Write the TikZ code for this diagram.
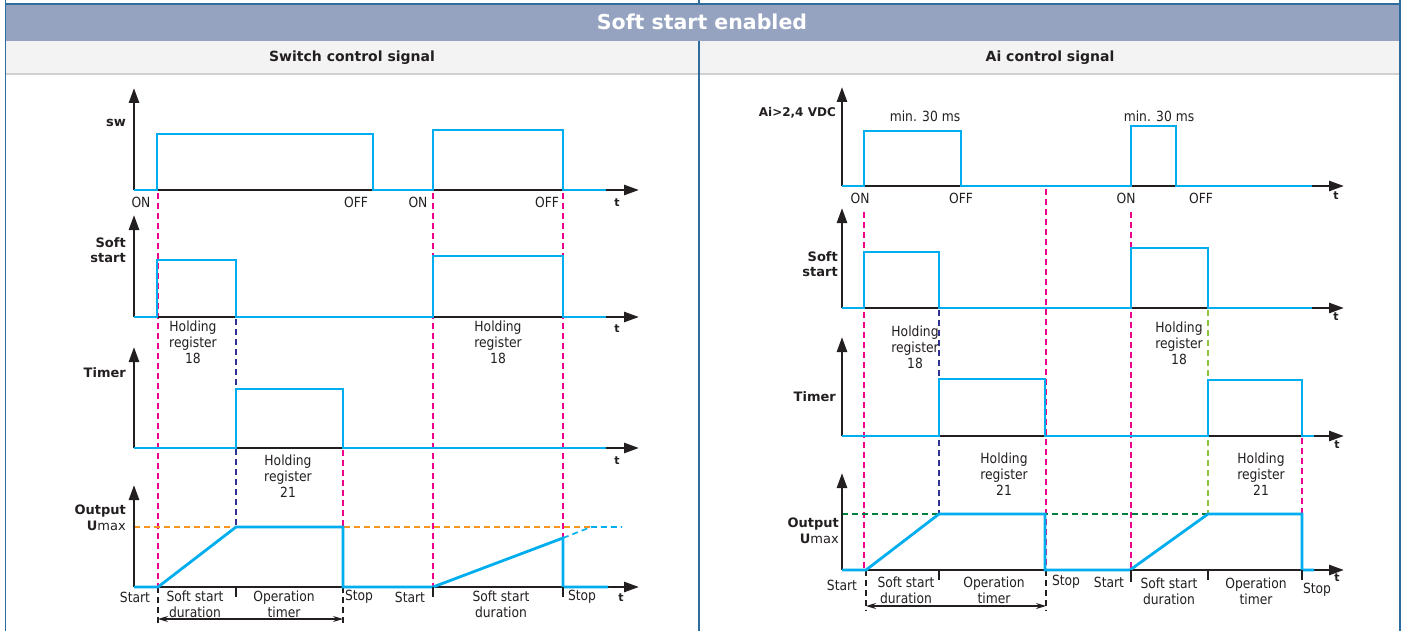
\documentclass[tikz,border=0pt]{standalone}
\usepackage{fontspec}
\setmainfont{DejaVu Sans}
\newfontfamily\narrowfont[FakeStretch=0.88]{DejaVu Sans}
\usepackage{xcolor}
\usepackage{tikz}
\usetikzlibrary{arrows.meta,positioning}

\definecolor{frameblue}{RGB}{46,108,158}
\definecolor{headblue}{RGB}{149,163,193}
\definecolor{subgray}{RGB}{243,243,243}
\definecolor{rulegray}{RGB}{208,208,208}
\definecolor{axisgray}{RGB}{35,31,32}
\definecolor{sigblue}{RGB}{0,174,239}
\definecolor{guidepink}{RGB}{236,0,140}
\definecolor{guidenavy}{RGB}{46,49,146}
\definecolor{guideorange}{RGB}{247,148,29}
\definecolor{guidegreen}{RGB}{0,128,60}
\definecolor{guidelime}{RGB}{141,198,63}

\tikzset{
  axisline/.style={line width=2.6pt, draw=axisgray, -{Triangle[length=15pt,width=10pt]}},
  signal/.style={line width=2.8pt, draw=sigblue},
  guide/.style={line width=1.3pt, dash pattern=on 6pt off 4pt},
  tickline/.style={line width=1.2pt, draw=axisgray},
  span/.style={line width=1.2pt, draw=axisgray, {Stealth[length=10pt,width=6pt]}-{Stealth[length=10pt,width=6pt]}},
  axlabel/.style={font=\fontsize{13}{15.5}\selectfont\bfseries, text=axisgray, align=right, anchor=east, inner sep=0pt},
  tlabel/.style={font=\fontsize{11}{12}\selectfont\bfseries, text=axisgray, inner sep=0pt},
  lbl/.style={font=\narrowfont\fontsize{14}{16}\selectfont, text=axisgray, align=center, inner sep=0pt},
}

\begin{document}
\begin{tikzpicture}[x=1pt, y=-1pt]
    \useasboundingbox (0,0) rectangle (1405,631);

    \fill[headblue] (5.5,4) rectangle (1400,41);
    \fill[subgray] (5.5,41) rectangle (1400,74);
    \draw[rulegray, line width=1.5pt] (5.5,74) -- (1400,74);
    \draw[frameblue, line width=1.5pt] (5.5,4) -- (1400,4);
    \draw[frameblue, line width=1.5pt] (5.5,0) -- (5.5,631);
    \draw[frameblue, line width=1.5pt] (1400,0) -- (1400,631);
    \draw[frameblue, line width=1.5pt] (699,0) -- (699,4);
    \draw[frameblue, line width=1.5pt] (699,41) -- (699,631);

    \node[font=\fontsize{20.5}{24}\selectfont\bfseries, text=white] (title) at (702,22) {Soft start enabled};
    \node[font=\fontsize{14}{16}\selectfont\bfseries, text=axisgray] (swhead) at (352,58) {Switch control signal};
    \node[font=\fontsize{14}{16}\selectfont\bfseries, text=axisgray] (aihead) at (1050,58) {Ai control signal};

    % switch control signal
    \coordinate (swO) at (134,190);
    \coordinate (ssO) at (134,317);
    \coordinate (tmO) at (134,448);
    \coordinate (outO) at (134,587);

    \draw[guide, guidepink] (158,193) -- (158,587);
    \draw[guide, guidepink] (433,193) -- (433,587);
    \draw[guide, guidepink] (563,193) -- (563,587);
    \draw[guide, guidepink] (343,450) -- (343,587);
    \draw[guide, guidenavy] (236,319) -- (236,527);
    \draw[guide, guideorange] (134,527) -- (591,527);
    \draw[guide, axisgray] (158,587) -- (158,624);
    \draw[guide, axisgray] (343,587) -- (343,624);

    \draw[axisline] (swO) -- (134,88);
    \draw[axisline] (swO) -- (639,190);
    \draw[axisline] (ssO) -- (134,215);
    \draw[axisline] (ssO) -- (639,317);
    \draw[axisline] (tmO) -- (134,347);
    \draw[axisline] (tmO) -- (639,448);
    \draw[axisline] (outO) -- (134,485);
    \draw[axisline] (outO) -- (639,587);

    \draw[signal] (swO) -- (157,190) -- (157,134) -- (373,134) -- (373,190) -- (433,190) -- (433,130) -- (563,130) -- (563,190) -- (606,190);
    \draw[signal] (ssO) -- (157,317) -- (157,260) -- (236,260) -- (236,317) -- (433,317) -- (433,256) -- (563,256) -- (563,317) -- (606,317);
    \draw[signal] (tmO) -- (236,448) -- (236,389) -- (343,389) -- (343,448) -- (606,448);
    \draw[signal] (outO) -- (158,587) -- (236,527) -- (343,527) -- (343,587) -- (433,587) -- (563,538) -- (563,587) -- (608,587);
    \draw[guide, sigblue, line width=1.6pt] (563,538) -- (591,527) -- (622,527);

    \draw[tickline] (236,587) -- (236,597);
    \draw[tickline] (433,587) -- (433,597);
    \draw[tickline] (563,587) -- (563,597);
    \coordinate (spanA) at (158,619);
    \coordinate (spanB) at (343,619);
    \draw[span] (spanA) -- (spanB);

    \node[axlabel] (swlab) at (126,123) {sw};
    \node[axlabel] (sslab) at (126,250) {Soft\\start};
    \node[axlabel] (tmlab) at (126,373) {Timer};
    \node[axlabel] (outlab) at (126,518) {Output\\U\mdseries max};

    \node[lbl] (on1) at (141,202) {ON};
    \node[lbl] (off1) at (356,202) {OFF};
    \node[lbl] (on2) at (418,202) {ON};
    \node[lbl] (off2) at (547,202) {OFF};
    \node[tlabel] (t1) at (617,203) {t};
    \node[tlabel] (t2) at (617,329) {t};
    \node[tlabel] (t3) at (617,461) {t};
    \node[tlabel] (t4) at (621,598) {t};

    \node[lbl] (hr1) at (193,342) {Holding\\register\\18};
    \node[lbl] (hr2) at (498,342) {Holding\\register\\18};
    \node[lbl] (hr3) at (288,476) {Holding\\register\\21};

    \node[lbl] (start1) at (135,597) {Start};
    \node[lbl] (ssd1) at (195,604) {Soft start\\duration};
    \node[lbl] (opt1) at (284,604) {Operation\\timer};
    \node[lbl] (stop1) at (359,597) {Stop};
    \node[lbl] (start2) at (410,597) {Start};
    \node[lbl] (ssd2) at (501,604) {Soft start\\duration};
    \node[lbl] (stop2) at (582,597) {Stop};

    % Ai control signal
    \coordinate (aiO) at (842,186);
    \coordinate (ssR) at (842,308);
    \coordinate (tmR) at (842,436);
    \coordinate (outR) at (842,570);

    \draw[guide, guidepink] (864,212) -- (864,570);
    \draw[guide, guidepink] (1046,189) -- (1046,570);
    \draw[guide, guidepink] (1131,212) -- (1131,570);
    \draw[guide, guidepink] (1302,438) -- (1302,570);
    \draw[guide, guidenavy] (939,310) -- (939,514);
    \draw[guide, guidelime] (1208,310) -- (1208,514);
    \draw[guide, guidegreen] (842,514) -- (1208,514);
    \draw[guide, axisgray] (866,570) -- (866,611);
    \draw[guide, axisgray] (1046,570) -- (1046,611);

    \draw[axisline] (aiO) -- (842,87);
    \draw[axisline] (aiO) -- (1344,186);
    \draw[axisline] (ssR) -- (842,208);
    \draw[axisline] (ssR) -- (1344,308);
    \draw[axisline] (tmR) -- (842,337);
    \draw[axisline] (tmR) -- (1344,436);
    \draw[axisline] (outR) -- (842,473);
    \draw[axisline] (outR) -- (1344,570);

    \draw[signal] (aiO) -- (864,186) -- (864,131) -- (961,131) -- (961,186) -- (1131,186) -- (1131,126) -- (1176,126) -- (1176,186) -- (1312,186);
    \draw[signal] (ssR) -- (864,308) -- (864,252) -- (939,252) -- (939,308) -- (1131,308) -- (1131,248) -- (1208,248) -- (1208,308) -- (1312,308);
    \draw[signal] (tmR) -- (939,436) -- (939,379) -- (1045,379) -- (1045,436) -- (1208,436) -- (1208,380) -- (1302,380) -- (1302,436) -- (1314,436);
    \draw[signal] (outR) -- (866,570) -- (939,514) -- (1045,514) -- (1045,570) -- (1130,570) -- (1208,514) -- (1302,514) -- (1302,570) -- (1314,570);

    \draw[tickline] (939,570) -- (939,580);
    \draw[tickline] (1131,570) -- (1131,582);
    \draw[tickline] (1208,570) -- (1208,580);
    \draw[tickline] (1302,570) -- (1302,580);
    \coordinate (spanC) at (866,606);
    \coordinate (spanD) at (1046,606);
    \draw[span] (spanC) -- (spanD);

    \node[axlabel, font=\fontsize{12}{14}\selectfont\bfseries] (ailab) at (836,113) {Ai>2,4 VDC};
    \node[axlabel] (sslabR) at (838,264) {Soft\\start};
    \node[axlabel] (tmlabR) at (836,397) {Timer};
    \node[axlabel] (outlabR) at (839,531) {Output\\U\mdseries max};

    \node[lbl] (min1) at (925,116) {min. 30 ms};
    \node[lbl] (min2) at (1159,116) {min. 30 ms};
    \node[lbl] (on3) at (860,198) {ON};
    \node[lbl] (off3) at (961,198) {OFF};
    \node[lbl] (on4) at (1126,198) {ON};
    \node[lbl] (off4) at (1201,198) {OFF};
    \node[tlabel] (t5) at (1336,196) {t};
    \node[tlabel] (t6) at (1336,317) {t};
    \node[tlabel] (t7) at (1337,445) {t};
    \node[tlabel] (t8) at (1337,578) {t};

    \node[lbl] (hr4) at (915,347) {Holding\\register\\18};
    \node[lbl] (hr5) at (1179,343) {Holding\\register\\18};
    \node[lbl] (hr6) at (1004,474) {Holding\\register\\21};
    \node[lbl] (hr7) at (1261,474) {Holding\\register\\21};

    \node[lbl] (start3) at (842,585) {Start};
    \node[lbl] (ssd3) at (906,590) {Soft start\\duration};
    \node[lbl] (opt3) at (994,590) {Operation\\timer};
    \node[lbl] (stop3) at (1066,582) {Stop};
    \node[lbl] (start4) at (1109,582) {Start};
    \node[lbl] (ssd4) at (1169,591) {Soft start\\duration};
    \node[lbl] (opt4) at (1256,591) {Operation\\timer};
    \node[lbl] (stop4) at (1317,590) {Stop};
\end{tikzpicture}
\end{document}
